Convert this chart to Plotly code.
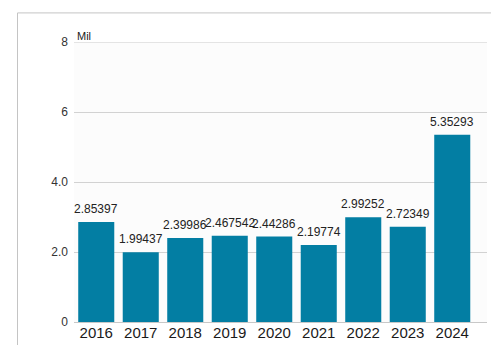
import plotly.graph_objects as go

years = ["2016", "2017", "2018", "2019", "2020", "2021", "2022", "2023", "2024"]
values = [2.85397, 1.99437, 2.39986, 2.467542, 2.44286, 2.19774, 2.99252, 2.72349, 5.35293]
value_labels = ["2.85397", "1.99437", "2.39986", "2.467542", "2.44286", "2.19774", "2.99252", "2.72349", "5.35293"]
y_ticks = [0, 2, 4, 6, 8]
y_tick_text = ["0", "2.0", "4.0", "6", "8"]

W, H = 491, 345
L, R, T, B = 74, 4, 42, 19
plot_w = W - L - R
plot_h = H - T - B

xs = list(range(len(years)))

fig = go.Figure(
    go.Bar(
        x=xs,
        y=values,
        marker=dict(color="#037ea3", line=dict(width=0)),
        width=0.81,
        cliponaxis=False,
        hoverinfo="x+y",
    )
)

# slot width of ~44.5px per category; axis extends a little past the last bar
slot_px = 44.5
x_hi = -0.5 + plot_w / slot_px

annotations = [
    dict(
        x=x, y=v, xref="x", yref="y",
        text=lab, showarrow=False,
        xanchor="center", yanchor="bottom", yshift=4,
        font=dict(family="Liberation Sans, Arial, sans-serif", size=12, color="#222222"),
    )
    for x, v, lab in zip(xs, values, value_labels)
]
annotations.append(
    dict(
        text="Mil",
        xref="paper", yref="paper",
        x=(75 - L) / plot_w, y=1.0,
        xanchor="left", yanchor="bottom", yshift=-2,
        showarrow=False,
        font=dict(size=11, color="#222222"),
    )
)

fig.update_layout(
    width=W,
    height=H,
    margin=dict(l=L, r=R, t=T, b=B),
    paper_bgcolor="white",
    plot_bgcolor="#fcfcfc",
    showlegend=False,
    font=dict(family="Liberation Sans, Arial, sans-serif"),
    xaxis=dict(
        range=[-0.5, x_hi],
        tickmode="array",
        tickvals=xs,
        ticktext=years,
        tickfont=dict(size=15, color="#1a1a1a"),
        showgrid=False,
        zeroline=False,
        showline=False,
        ticks="",
        ticklabelstandoff=0,
    ),
    yaxis=dict(
        range=[0, 8],
        tickmode="array",
        tickvals=y_ticks,
        ticktext=y_tick_text,
        tickfont=dict(size=12, color="#333333"),
        showgrid=True,
        gridcolor="#d2d2d2",
        gridwidth=1,
        zeroline=True,
        zerolinecolor="#c8c8c8",
        zerolinewidth=1,
        showline=False,
        ticks="",
        ticklabelstandoff=5,
    ),
    annotations=annotations,
    shapes=[
        # outer frame of the chart panel
        dict(
            type="rect",
            xref="paper", yref="paper",
            x0=(17.5 - L) / plot_w, x1=(W + 10 - L) / plot_w,
            y0=-(B + 10) / plot_h, y1=1 + (T - 12.5) / plot_h,
            line=dict(color="#c4c4c4", width=1),
            fillcolor="rgba(0,0,0,0)",
            layer="below",
        ),
        # gridline along the top of the value range
        dict(
            type="line",
            xref="paper", yref="y",
            x0=0, x1=1, y0=8, y1=8,
            line=dict(color="#cccccc", width=1),
            layer="below",
        ),
    ],
)

fig.write_html("out.html")
